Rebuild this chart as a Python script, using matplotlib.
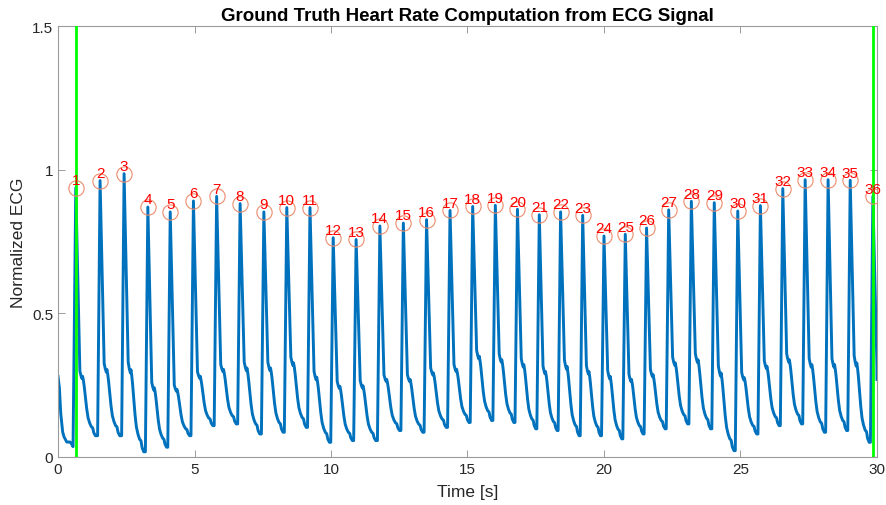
import numpy as np
import matplotlib
matplotlib.use("Agg")
import matplotlib.pyplot as plt

plt.rcParams['font.family'] = ['Liberation Sans', 'DejaVu Sans']

# detected R peaks: time [s] and normalized amplitude
peak_t = [0.65, 1.54, 2.42, 3.29, 4.11, 4.96, 5.81, 6.67, 7.54, 8.38,
          9.23, 10.08, 10.92, 11.79, 12.65, 13.50, 14.36, 15.19, 16.02, 16.83,
          17.63, 18.41, 19.22, 20.00, 20.78, 21.56, 22.37, 23.20, 24.04, 24.90,
          25.73, 26.55, 27.37, 28.21, 29.02, 29.85]
peak_v = [0.937, 0.962, 0.986, 0.870, 0.853, 0.891, 0.907, 0.882, 0.853, 0.868,
          0.868, 0.763, 0.757, 0.804, 0.814, 0.826, 0.858, 0.872, 0.876, 0.862,
          0.843, 0.853, 0.841, 0.769, 0.775, 0.797, 0.860, 0.890, 0.885, 0.856,
          0.875, 0.934, 0.965, 0.965, 0.963, 0.907]
# level of the notch after each peak and the trough before the next one
shoulder_v = [0.283, 0.307, 0.307, 0.243, 0.237, 0.283, 0.307, 0.312, 0.312, 0.33,
              0.28, 0.248, 0.25, 0.272, 0.272, 0.295, 0.307, 0.353, 0.341, 0.324,
              0.30, 0.318, 0.30, 0.283, 0.272, 0.289, 0.33, 0.341, 0.295, 0.278,
              0.318, 0.341, 0.324, 0.324, 0.33, 0.30]
trough_v = [0.074, 0.074, 0.018, 0.034, 0.074, 0.109, 0.115, 0.08, 0.086, 0.103,
            0.051, 0.057, 0.057, 0.092, 0.086, 0.103, 0.12, 0.127, 0.12, 0.098,
            0.092, 0.074, 0.074, 0.063, 0.08, 0.098, 0.115, 0.098, 0.022, 0.08,
            0.109, 0.115, 0.086, 0.092, 0.051, 0.05]

# start of the record, before the first beat
lead_t = [0.0, 0.05, 0.10, 0.17, 0.22, 0.32, 0.44, 0.50, 0.55]
lead_v = [0.28, 0.24, 0.15, 0.087, 0.07, 0.052, 0.052, 0.045, 0.036]
end_t, end_v = 30.0, 0.27

# one beat after the R peak: time offset and position between trough and notch
shape_dt = [0.15, 0.19, 0.23, 0.25, 0.28, 0.31, 0.35, 0.40, 0.45, 0.51, 0.57, 0.60, 0.62, 0.66, 0.72]
shape_frac = [1.08, 1.0, 0.95, 0.99, 0.92, 0.82, 0.66, 0.45, 0.30, 0.21, 0.15, 0.14, 0.13, 0.05, 0.0]

win_start, win_end = 0.66, 29.85

# assemble the trace beat by beat
t = list(lead_t)
v = list(lead_v)
for i in range(len(peak_t)):
    tp = peak_t[i]
    t.append(tp)
    v.append(peak_v[i])
    rr = peak_t[i + 1] - tp if i + 1 < len(peak_t) else 0.85
    k = min(1.0, rr / 0.86)
    s, m = shoulder_v[i], trough_v[i]
    for dt, f in zip(shape_dt, shape_frac):
        tt = tp + dt * k
        if tt >= end_t:
            break
        t.append(tt)
        v.append(m + f * (s - m))
    if i + 1 < len(peak_t):
        t_rise = peak_t[i + 1] - 0.09
        if t_rise > t[-1]:
            t.append(t_rise)
            v.append(m)
t.append(end_t)
v.append(end_v)

fig = plt.figure(figsize=(8.86, 5.06), dpi=100)
ax = fig.add_axes([0.0655, 0.0949, 0.9243, 0.8517])

ax.plot(t, v, color='#0072BD', lw=2.1, zorder=2)
ax.axvline(win_start, color='#00FF00', lw=2.0, zorder=3)
ax.axvline(win_end, color='#00FF00', lw=2.0, zorder=3)

ax.plot(peak_t, peak_v, 'o', ms=11, mfc='none', mec='#EC8C6C', mew=0.8, zorder=4)
for n, (x, y) in enumerate(zip(peak_t, peak_v), start=1):
    ax.text(x, y + 0.013, str(n), color='red', fontsize=11,
            ha='center', va='baseline', zorder=5)

ax.set_xlim(0, 30)
ax.set_ylim(0, 1.5)
ax.set_xticks([0, 5, 10, 15, 20, 25, 30])
ax.set_yticks([0, 0.5, 1, 1.5])
ax.set_yticklabels(['0', '0.5', '1', '1.5'])
ax.tick_params(direction='in', length=5, width=0.6, top=True, right=True,
               color='#8c8c8c', labelcolor='#262626', labelsize=11)
for sp in ax.spines.values():
    sp.set_color('#9a9a9a')
    sp.set_linewidth(0.8)

ax.set_xlabel('Time [s]', fontsize=12.5, color='#262626', labelpad=6)
ax.set_ylabel('Normalized ECG', fontsize=12.5, color='#262626', labelpad=4)
ax.set_title('Ground Truth Heart Rate Computation from ECG Signal',
             fontsize=13.5, fontweight='bold', pad=4)

fig.savefig('out.png', dpi=100)
